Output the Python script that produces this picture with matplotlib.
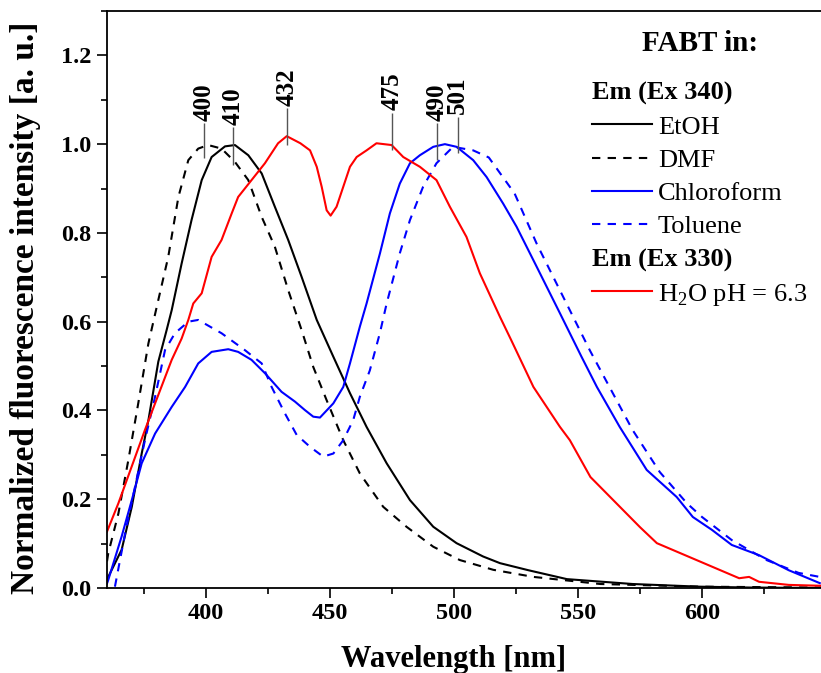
import matplotlib
matplotlib.use('Agg')
import matplotlib.pyplot as plt
from matplotlib.lines import Line2D
from matplotlib.ticker import MultipleLocator, FormatStrFormatter

plt.rcParams['font.family'] = ['Liberation Serif', 'DejaVu Serif']
plt.rcParams['mathtext.fontset'] = 'custom'
plt.rcParams['mathtext.rm'] = 'Liberation Serif'

# Emission spectra (wavelength nm, normalized intensity)
etoh_wl = [360, 360.5, 365.9, 370, 374, 376.7, 380.7, 384, 386.1, 390.1, 394.1, 398.2, 402.2,
           407.6, 411.6, 417, 422.4, 427.7, 433.1, 438.5, 444.6, 451.3, 458, 464.7, 472.8,
           482.2, 491.6, 501, 511.7, 518.5, 530, 545.5, 572, 599, 620, 648]
etoh_int = [0.02, 0.025, 0.086, 0.183, 0.303, 0.378, 0.51, 0.58, 0.626, 0.731, 0.829, 0.919, 0.971,
            0.995, 0.998, 0.975, 0.934, 0.859, 0.784, 0.701, 0.604, 0.521, 0.439, 0.363, 0.281,
            0.198, 0.138, 0.101, 0.071, 0.056, 0.04, 0.02, 0.009, 0.003, 0.001, 0.0]

dmf_wl = [360, 360.5, 364.6, 368.6, 372.6, 376.7, 380.7, 384.7, 388.8, 392.8, 396.8, 400.8,
          406.2, 411.6, 417, 422.4, 427.7, 433.1, 438.5, 443.2, 448.6, 455.3, 462, 471.4,
          480.8, 491.6, 502.3, 515.8, 532, 559, 599, 648]
dmf_int = [0.06, 0.078, 0.168, 0.288, 0.416, 0.551, 0.649, 0.746, 0.881, 0.964, 0.99, 0.998,
           0.99, 0.96, 0.919, 0.836, 0.769, 0.671, 0.581, 0.498, 0.423, 0.333, 0.258, 0.183,
           0.138, 0.093, 0.063, 0.041, 0.025, 0.009, 0.003, 0.001]

chcl3_wl = [360, 360.5, 365.9, 370, 374, 379.4, 386.1, 391.5, 396.8, 402.2, 408.9, 412.9, 418.3,
            423.7, 430.4, 435.8, 439.8, 443.2, 445.9, 451.3, 455.3, 458, 462, 464.7, 470.1,
            474.1, 478.1, 482.2, 486.2, 491.6, 496.3, 501, 507.7, 513.1, 519.8, 525.2, 533.3,
            542.7, 551.4, 557.6, 566.8, 577.7, 589.8, 596.3, 604, 612, 623, 635, 647.5]
chcl3_int = [0.01, 0.018, 0.116, 0.198, 0.281, 0.348, 0.408, 0.453, 0.506, 0.532, 0.538, 0.532, 0.514,
             0.484, 0.442, 0.42, 0.401, 0.386, 0.384, 0.416, 0.453, 0.506, 0.589, 0.641, 0.754,
             0.844, 0.911, 0.957, 0.975, 0.994, 1.0, 0.994, 0.964, 0.926, 0.866, 0.814, 0.724,
             0.619, 0.521, 0.453, 0.363, 0.266, 0.205, 0.16, 0.131, 0.097, 0.074, 0.04, 0.011]

tol_wl = [363.2, 367.3, 371.3, 375.3, 379.4, 383.4, 387.4, 392.8, 396.8, 406.2, 415.6, 422.4,
          426.4, 431.8, 436.5, 441.9, 447.2, 451.3, 455.3, 459.3, 462, 466, 470.1, 472.8, 478.1,
          482.2, 487.5, 492.9, 499.6, 507.7, 514, 524.4, 533.3, 544, 554.8, 562, 572, 583,
          593.9, 600, 612, 626, 639, 647.5]
tol_int = [0.003, 0.123, 0.228, 0.333, 0.431, 0.536, 0.574, 0.6, 0.604, 0.574, 0.536, 0.506,
           0.453, 0.393, 0.345, 0.318, 0.296, 0.303, 0.333, 0.378, 0.431, 0.49, 0.575, 0.641, 0.754,
           0.829, 0.904, 0.957, 0.994, 0.986, 0.97, 0.889, 0.776, 0.656, 0.535, 0.46, 0.356, 0.261,
           0.191, 0.16, 0.108, 0.063, 0.034, 0.025]

h2o_wl = [360, 364.6, 375.3, 386.1, 390.1, 392.8, 394.8, 398.2, 402.2, 406.2, 410.3, 412.9,
          418.3, 423.7, 429, 432.5, 438, 441.9, 444.6, 446.6, 448.6, 450.2, 452.6, 455.3, 458,
          460.7, 464.7, 468.7, 474.8, 479.5, 486.2, 492.9, 498.3, 505, 510.4, 518.5, 523, 532,
          542.7, 546.7, 555, 575, 581.8, 615, 619, 623, 635, 648]
h2o_int = [0.127, 0.191, 0.356, 0.514, 0.562, 0.604, 0.641, 0.664, 0.746, 0.784, 0.844, 0.881,
           0.919, 0.957, 1.002, 1.018, 1.002, 0.986, 0.949, 0.904, 0.851, 0.839, 0.859, 0.904, 0.949,
           0.971, 0.986, 1.002, 0.998, 0.971, 0.949, 0.919, 0.859, 0.791, 0.709, 0.611, 0.559, 0.453,
           0.363, 0.333, 0.25, 0.137, 0.101, 0.022, 0.025, 0.014, 0.007, 0.005]

# Peak markers: label, x position, line bottom, line top
peak_labels = ['400', '410', '432', '475', '490', '501']
peak_x = [399.1, 411, 432.6, 475, 493.3, 501.5]
peak_lo = [0.968, 0.953, 0.998, 0.986, 0.964, 0.98]
peak_hi = [1.047, 1.038, 1.081, 1.07, 1.047, 1.061]

fig = plt.figure(figsize=(8.21, 6.73), dpi=100)
ax = fig.add_axes([107 / 821, 85 / 673, 714 / 821, 577 / 673])

lw = 1.5
dash = (0, (4, 3.5))
ax.plot(etoh_wl, etoh_int, color='black', lw=lw, label='EtOH')
ax.plot(dmf_wl, dmf_int, color='black', lw=lw, ls=dash, label='DMF')
ax.plot(chcl3_wl, chcl3_int, color='#0000ff', lw=lw, label='Chloroform')
ax.plot(tol_wl, tol_int, color='#0000ff', lw=lw, ls=dash, label='Toluene')
ax.plot(h2o_wl, h2o_int, color='#ff0000', lw=lw, label=r'H$_\mathregular{2}$O pH = 6.3')

ax.vlines(peak_x, peak_lo, peak_hi, color='#555555', lw=1)
for lab, x, top in zip(peak_labels, peak_x, peak_hi):
    ax.text(x, top + 0.006, lab, rotation=90, ha='center', va='bottom',
            fontsize=18, fontweight='bold')

ax.set_xlim(360, 648)
ax.set_ylim(0, 1.3)
ax.xaxis.set_major_locator(MultipleLocator(50))
ax.xaxis.set_minor_locator(MultipleLocator(25))
ax.yaxis.set_major_locator(MultipleLocator(0.2))
ax.yaxis.set_minor_locator(MultipleLocator(0.1))
ax.yaxis.set_major_formatter(FormatStrFormatter('%.1f'))
ax.tick_params(which='major', length=7, width=1.2, labelsize=17.5, pad=4)
ax.tick_params(which='minor', length=4, width=1.2)
for t in ax.get_xticklabels() + ax.get_yticklabels():
    t.set_fontweight('bold')
ax.spines['right'].set_visible(False)
for s in ['left', 'bottom', 'top']:
    ax.spines[s].set_linewidth(1.3)

ax.set_xlabel('Wavelength [nm]', fontsize=22, fontweight='bold')
ax.set_ylabel('Normalized fluorescence intensity [a. u.]', fontsize=24, fontweight='bold')
ax.xaxis.set_label_coords((454 - 107) / 714, -0.098)
ax.yaxis.set_label_coords(-0.092, 0.485)

# Legend with section headings
blank = Line2D([], [], color='none')
handles, labels = ax.get_legend_handles_labels()
leg_handles = [blank] + handles[:4] + [blank] + handles[4:]
leg_labels = ['Em (Ex 340)'] + labels[:4] + ['Em (Ex 330)'] + labels[4:]
leg = ax.legend(leg_handles, leg_labels, loc='upper left', bbox_to_anchor=(0.679, 0.878),
                frameon=False, fontsize=19, handlelength=2.27, handletextpad=0.23,
                labelspacing=0.37, borderpad=0, borderaxespad=0)
shift = (2.27 + 0.23) * 19 * 100 / 72
for i in (0, 5):
    txt = leg.get_texts()[i]
    txt.set_fontweight('bold')
    txt.set_x(-shift)

ax.text(0.8305, 0.9445, 'FABT in:', transform=ax.transAxes, ha='center', va='center',
        fontsize=21, fontweight='bold')

fig.savefig('out.png', dpi=100)
